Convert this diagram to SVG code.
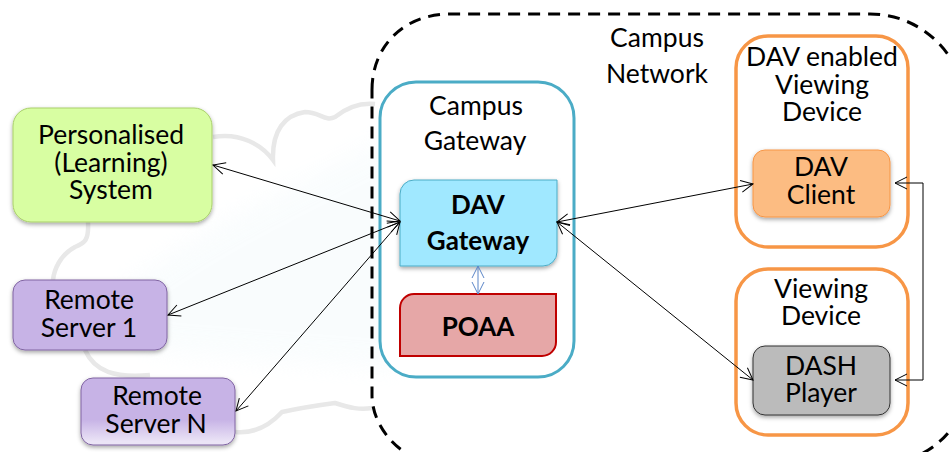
<svg xmlns="http://www.w3.org/2000/svg" width="950" height="452" viewBox="0 0 950 452">
<style>
text{font-family:"Lato","Open Sans","Liberation Sans",sans-serif;font-size:26.5px;fill:#000;text-anchor:middle}
.b{font-weight:700;font-size:26px}
.c{fill:none;stroke:#000;stroke-width:1}
.o{fill:#fff;stroke:#f79646;stroke-width:3.5}
.sh{filter:url(#s)}
</style>
<defs>
<filter id="s" x="-10%" y="-10%" width="120%" height="125%"><feDropShadow dx="0" dy="2" stdDeviation="2" flood-color="#000" flood-opacity=".35"/></filter>
<filter id="bl" x="-10%" y="-10%" width="120%" height="120%"><feGaussianBlur stdDeviation="12"/></filter>
<linearGradient id="g" x1="0" y1="0" x2="0" y2="1"><stop offset=".62" stop-color="#c7b3e6"/><stop offset=".95" stop-color="#ebe4f6"/></linearGradient>
<marker id="a" markerUnits="userSpaceOnUse" markerWidth="16" markerHeight="16" refX="13" refY="7" orient="auto-start-reverse"><path d="M1 1L13 7L1 13" fill="none" stroke="#000" stroke-width="1"/></marker>
<marker id="ab" markerUnits="userSpaceOnUse" markerWidth="16" markerHeight="16" refX="13" refY="7" orient="auto-start-reverse"><path d="M1 1L13 7L1 13" fill="none" stroke="#5b86c8" stroke-width="1"/></marker>
</defs>
<g id="cloud">
<path d="M120 290C200 225 330 170 400 130L400 370L150 350Z" fill="#f3fafc" opacity=".45" filter="url(#bl)"/>
<path d="M213 137C240 132 262 145 273 160C272 130 285 115 305 112C320 112 325 122 335 117C350 105 365 103 375 104M88 222C89 240 85 243 75 247C60 255 54 270 53 280M85 350C95 372 115 378 150 375M235 432C255 434 270 425 282 412C300 408 320 405 335 403C350 408 360 410 372 408" fill="none" stroke="#e8e8e8" stroke-width="4.5"/>
</g>
<g id="campus-network">
<path d="M372 90C372 45 405 14 450 14L870 14C925 14 966 60 966 110L966 385C966 430 925 466 870 466L450 466C405 466 372 430 372 395Z" fill="none" stroke="#000" stroke-width="3" stroke-dasharray="12 8"/>
<text><tspan x="657" y="47">Campus</tspan><tspan x="657" y="83">Network</tspan></text>
</g>
<g id="personalised-system">
<rect class="sh" x="13" y="108" width="199" height="114" rx="18" fill="#d8fea2" stroke="#a9cf6b"/>
<text><tspan x="111" y="144">Personalised</tspan><tspan x="111" y="172">(Learning)</tspan><tspan x="111" y="199">System</tspan></text>
</g>
<g id="remote-server-1">
<rect class="sh" x="13" y="280" width="154" height="70" rx="12" fill="#c7b3e6" stroke="#8064a2"/>
<text><tspan x="89" y="309">Remote</tspan><tspan x="89" y="337">Server 1</tspan></text>
</g>
<g id="remote-server-n">
<rect class="sh" x="81" y="378" width="154" height="67" rx="12" fill="url(#g)" stroke="#8064a2"/>
<text><tspan x="157" y="405">Remote</tspan><tspan x="156" y="433">Server N</tspan></text>
</g>
<g id="campus-gateway">
<rect x="380" y="82" width="194" height="295" rx="36" fill="#fff" stroke="#4bacc6" stroke-width="3"/>
<text><tspan x="476" y="115">Campus</tspan><tspan x="475" y="150">Gateway</tspan></text>
</g>
<g id="dav-gateway">
<path class="sh" d="M414 180H557V252A14 14 0 0 1 543 266H400V194A14 14 0 0 1 414 180Z" fill="#a0e8ff" stroke="#4bacc6"/>
<text class="b"><tspan x="478" y="214">DAV</tspan><tspan x="478" y="250">Gateway</tspan></text>
</g>
<g id="poaa">
<path d="M414 294H556V342A14 14 0 0 1 542 356H400V308A14 14 0 0 1 414 294Z" fill="#e6a7a7" stroke="#c00000" stroke-width="2"/>
<text class="b" x="478" y="336">POAA</text>
</g>
<g id="dav-enabled-device">
<rect class="o" x="736" y="36" width="172" height="211" rx="32"/>
<text><tspan x="822" y="66">DAV enabled</tspan><tspan x="822" y="94">Viewing</tspan><tspan x="822" y="121">Device</tspan></text>
</g>
<g id="dav-client">
<rect class="sh" x="753" y="150" width="137" height="67" rx="12" fill="#fcbc82" stroke="#f79646"/>
<text><tspan x="821" y="176">DAV</tspan><tspan x="821" y="204">Client</tspan></text>
</g>
<g id="viewing-device">
<rect class="o" x="736" y="269" width="172" height="166" rx="32"/>
<text><tspan x="821" y="298">Viewing</tspan><tspan x="821" y="325">Device</tspan></text>
</g>
<g id="dash-player">
<rect class="sh" x="753" y="346" width="137" height="69" rx="12" fill="#bbb" stroke="#333"/>
<text><tspan x="821" y="375">DASH</tspan><tspan x="821" y="402">Player</tspan></text>
</g>
<g id="connectors">
<path class="c" d="M213 165L400 221" marker-start="url(#a)" marker-end="url(#a)"/>
<path class="c" d="M168 315L400 222" marker-start="url(#a)" marker-end="url(#a)"/>
<path class="c" d="M236 411L400 222" marker-start="url(#a)" marker-end="url(#a)"/>
<path class="c" d="M557 222L753 184" marker-start="url(#a)" marker-end="url(#a)"/>
<path class="c" d="M557 222L753 380" marker-start="url(#a)" marker-end="url(#a)"/>
<path class="c" d="M895 183H923V380H895" marker-start="url(#a)" marker-end="url(#a)"/>
<path d="M478 266V294" fill="none" stroke="#5b86c8" marker-start="url(#ab)" marker-end="url(#ab)"/>
</g>
</svg>
